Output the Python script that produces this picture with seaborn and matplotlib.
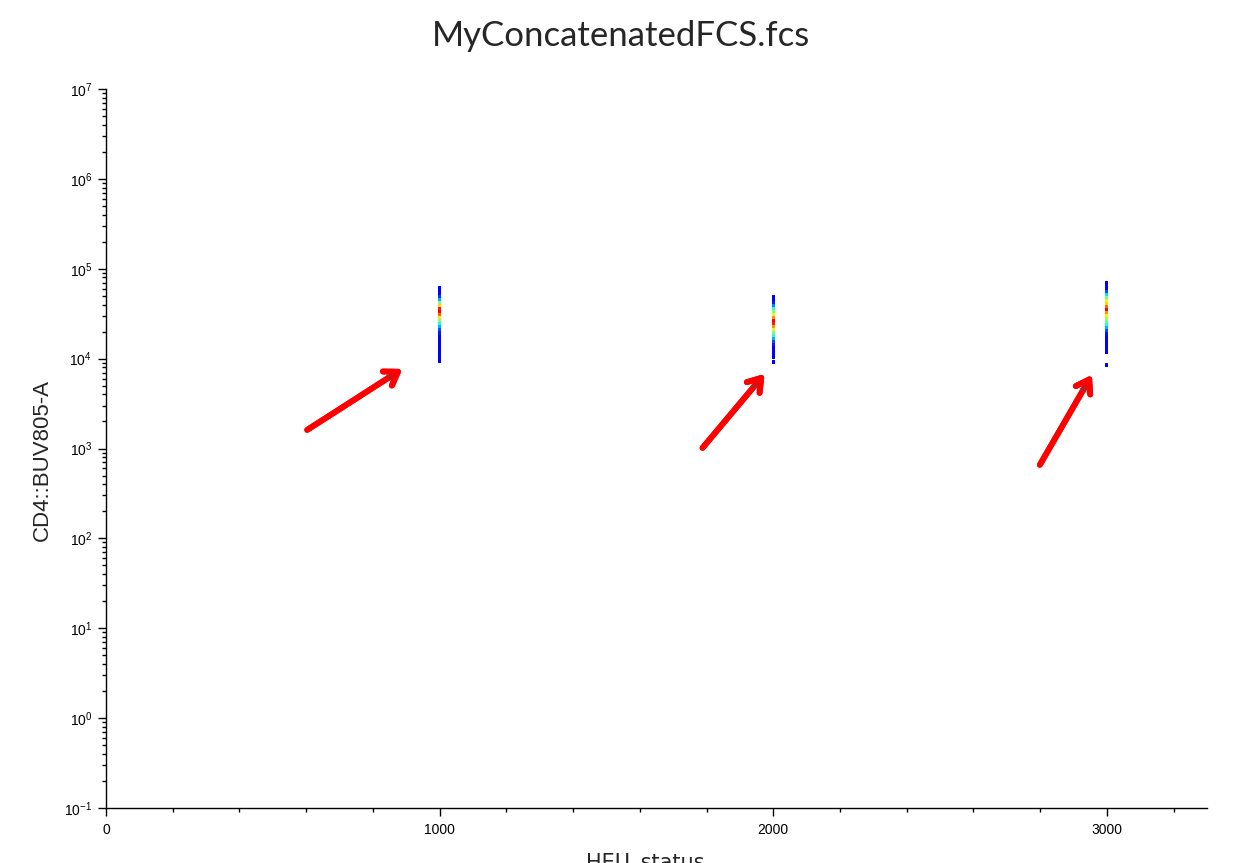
import matplotlib
matplotlib.use('Agg')
import matplotlib.pyplot as plt
import matplotlib.patheffects as pe
from matplotlib.ticker import MultipleLocator, LogLocator, LogFormatterSciNotation, NullFormatter
import seaborn as sns
import pandas as pd
import numpy as np

# HEU_status groups and CD4::BUV805-A intensities (one strip per group)
heu_groups = [1000, 2000, 3000]

cd4_g1 = [61100, 56600, 52500, 48600, 45000, 41700, 38600, 35700, 33100, 30600,
          28400, 26300, 24300, 22500, 20900, 19300, 17900, 16600, 15300, 14200,
          13200, 12200, 11000, 10200, 9420]
dens_g1 = [0.12, 0.12, 0.13, 0.18, 0.3, 0.5, 0.68, 0.88, 0.9, 0.8,
           0.66, 0.5, 0.38, 0.3, 0.2, 0.15, 0.13, 0.12, 0.12, 0.12,
           0.12, 0.12, 0.12, 0.12, 0.12]

cd4_g2 = [48600, 45000, 41700, 38600, 35700, 33100, 30600, 28400, 26300, 24300,
          22500, 20900, 19300, 17900, 16600, 15300, 14200, 13200, 12200, 11300,
          10500, 9200]
dens_g2 = [0.12, 0.13, 0.15, 0.25, 0.4, 0.5, 0.62, 0.75, 0.9, 0.88,
           0.75, 0.6, 0.5, 0.4, 0.3, 0.2, 0.15, 0.13, 0.12, 0.12,
           0.12, 0.12]

cd4_g3 = [69500, 64400, 59600, 55200, 51100, 47400, 43900, 40600, 37600, 34800,
          32200, 29800, 27600, 25600, 23700, 21900, 20300, 18800, 17400, 16100,
          15000, 13800, 12800, 11900, 8500]
dens_g3 = [0.12, 0.12, 0.13, 0.2, 0.35, 0.5, 0.62, 0.68, 0.8, 0.9,
           0.75, 0.65, 0.55, 0.48, 0.38, 0.3, 0.2, 0.15, 0.13, 0.12,
           0.12, 0.12, 0.12, 0.12, 0.12]

# annotation arrows (start -> end), data coordinates
arrow_starts = [(603, 1610), (1788, 1016), (2799, 658)]
arrow_ends = [(888, 7680), (1974, 6760), (2955, 6590)]


def main():
    sns.set_style('ticks')
    plt.rcParams['font.family'] = ['Liberation Sans', 'DejaVu Sans']
    plt.rcParams['mathtext.fontset'] = 'custom'
    plt.rcParams['mathtext.rm'] = 'Liberation Sans'
    plt.rcParams['mathtext.default'] = 'regular'

    rows = []
    for g, ys, ds in zip(heu_groups, [cd4_g1, cd4_g2, cd4_g3], [dens_g1, dens_g2, dens_g3]):
        for y, d in zip(ys, ds):
            rows.append({'HEU_status': g, 'CD4': y, 'density': d})
    df = pd.DataFrame(rows)

    fig = plt.figure(figsize=(12.36, 8.63), dpi=100)
    ax = fig.add_axes([106 / 1236, 55 / 863, 1101 / 1236, 719 / 863])

    # narrow upright rectangle so neighbouring events merge into a strip
    cell = [(-0.75, -1), (0.75, -1), (0.75, 1), (-0.75, 1)]
    sns.scatterplot(data=df, x='HEU_status', y='CD4', hue='density',
                    palette=plt.get_cmap('jet'), hue_norm=(0, 1), marker=cell, s=9,
                    linewidth=0, legend=False, ax=ax)

    ax.set_yscale('log')
    ax.set_ylim(0.1, 1e7)
    ax.set_xlim(0, 3300)
    ax.xaxis.set_major_locator(MultipleLocator(1000))
    ax.xaxis.set_minor_locator(MultipleLocator(200))
    ax.yaxis.set_major_locator(LogLocator(base=10, numticks=20))
    ax.yaxis.set_minor_locator(LogLocator(base=10, subs=np.arange(2, 10), numticks=20))
    ax.yaxis.set_major_formatter(LogFormatterSciNotation())
    ax.yaxis.set_minor_formatter(NullFormatter())

    ax.tick_params(which='major', length=6, width=1, labelsize=10, colors='black', pad=5)
    ax.tick_params(which='minor', length=3, width=1, colors='black')
    ax.tick_params(axis='y', which='major', pad=4)
    for sp in ['left', 'bottom']:
        ax.spines[sp].set_linewidth(1)
        ax.spines[sp].set_color('black')
    sns.despine(ax=ax)

    ax.set_xlabel('HEU_status', fontsize=15, family=['DejaVu Sans'])
    ax.xaxis.set_label_coords(0.4896, -0.062)
    ax.set_ylabel('CD4::BUV805-A', fontsize=16)
    ax.yaxis.set_label_coords(-0.048, 0.484)

    fig.text(621 / 1236, 1 - 36 / 863, 'MyConcatenatedFCS.fcs', ha='center', va='center',
             fontsize=25, family=['Lato', 'DejaVu Sans'])

    for (x0, y0), (x1, y1) in zip(arrow_starts, arrow_ends):
        ax.annotate('', xy=(x1, y1), xytext=(x0, y0),
                    arrowprops=dict(arrowstyle='->, head_length=0.45, head_width=0.3',
                                    color='red', lw=4.2, shrinkA=0, shrinkB=0,
                                    mutation_scale=20, capstyle='round', joinstyle='round',
                                    path_effects=[pe.withSimplePatchShadow(offset=(2, -2), alpha=0.35),
                                                  pe.Normal()]))

    fig.savefig('out.png', dpi=100)


if __name__ == "__main__":
    main()
